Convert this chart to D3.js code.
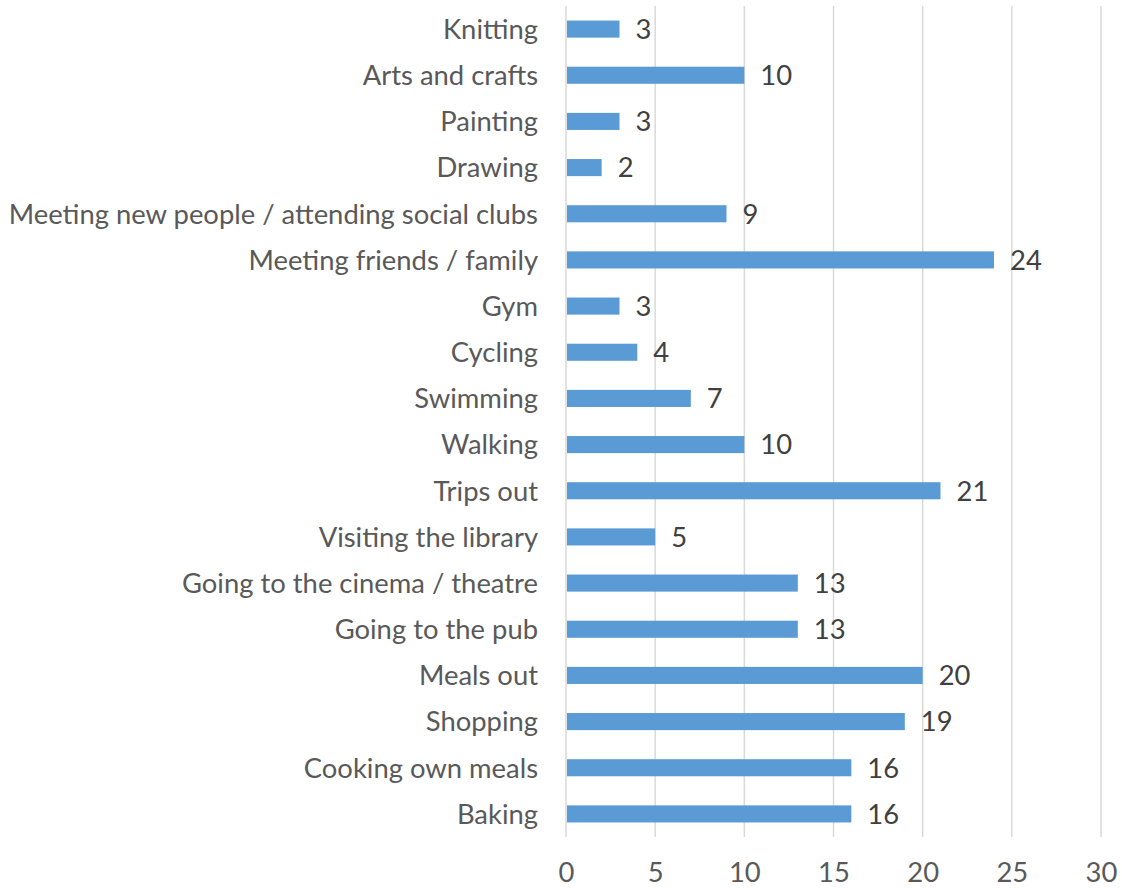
<!DOCTYPE html>
<html>
<head>
<meta charset="utf-8">
<script src="https://cdn.jsdelivr.net/npm/d3@7"></script>
<style>
  html, body { margin: 0; padding: 0; background: #fff; }
  svg { display: block; }
  text { font-family: Lato, "Open Sans", sans-serif; }
</style>
</head>
<body>
<svg id="chart" width="1122" height="888"></svg>
<script>
// Activities, listed top to bottom
const categories = [
  "Knitting", "Arts and crafts", "Painting", "Drawing",
  "Meeting new people / attending social clubs", "Meeting friends / family",
  "Gym", "Cycling", "Swimming", "Walking", "Trips out",
  "Visiting the library", "Going to the cinema / theatre", "Going to the pub",
  "Meals out", "Shopping", "Cooking own meals", "Baking"
];
const values = [3, 10, 3, 2, 9, 24, 3, 4, 7, 10, 21, 5, 13, 13, 20, 19, 16, 16];
const xTicks = [0, 5, 10, 15, 20, 25, 30];

const svg = d3.select("#chart");
const margin = { top: 6, right: 21, bottom: 51, left: 566 };
const W = 1122, H = 888;
const FONT = 27.4;

const x = d3.scaleLinear().domain([0, 30]).range([margin.left, W - margin.right]);
const y = d3.scaleBand().domain(categories).range([margin.top, H - margin.bottom]).paddingInner(0.63).paddingOuter(0.315);

// vertical gridlines
svg.append("g")
  .selectAll("line")
  .data(xTicks)
  .join("line")
  .attr("x1", d => x(d)).attr("x2", d => x(d))
  .attr("y1", margin.top).attr("y2", H - margin.bottom)
  .attr("stroke", "#d9d9d9")
  .attr("stroke-width", 1.5);

// bars
svg.append("g")
  .selectAll("rect")
  .data(values)
  .join("rect")
  .attr("x", x(0) + 1)
  .attr("y", (d, i) => y(categories[i]))
  .attr("width", d => x(d) - x(0) - 1)
  .attr("height", y.bandwidth())
  .attr("fill", "#5b9bd5");

// value labels
svg.append("g")
  .selectAll("text")
  .data(values)
  .join("text")
  .attr("x", d => x(d) + 16)
  .attr("y", (d, i) => y(categories[i]) + y.bandwidth() / 2)
  .attr("dy", "0.36em")
  .attr("font-size", FONT)
  .attr("fill", "#404040")
  .text(d => d);

// category axis
const yAxis = d3.axisLeft(y).tickSize(0).tickPadding(28);
const gy = svg.append("g").attr("transform", `translate(${margin.left},0)`).call(yAxis);
gy.select(".domain").remove();
gy.selectAll("text")
  .attr("font-size", FONT)
  .attr("fill", "#595959")
  .attr("dy", "0.36em")
  .style("font-family", "Lato, 'Open Sans', sans-serif");

// value axis
const xAxis = d3.axisBottom(x).tickValues(xTicks).tickSize(0).tickPadding(26);
const gx = svg.append("g").attr("transform", `translate(0,${H - margin.bottom})`).call(xAxis);
gx.select(".domain").remove();
gx.selectAll("text")
  .attr("font-size", FONT)
  .attr("fill", "#595959")
  .style("font-family", "Lato, 'Open Sans', sans-serif");
</script>
</body>
</html>
